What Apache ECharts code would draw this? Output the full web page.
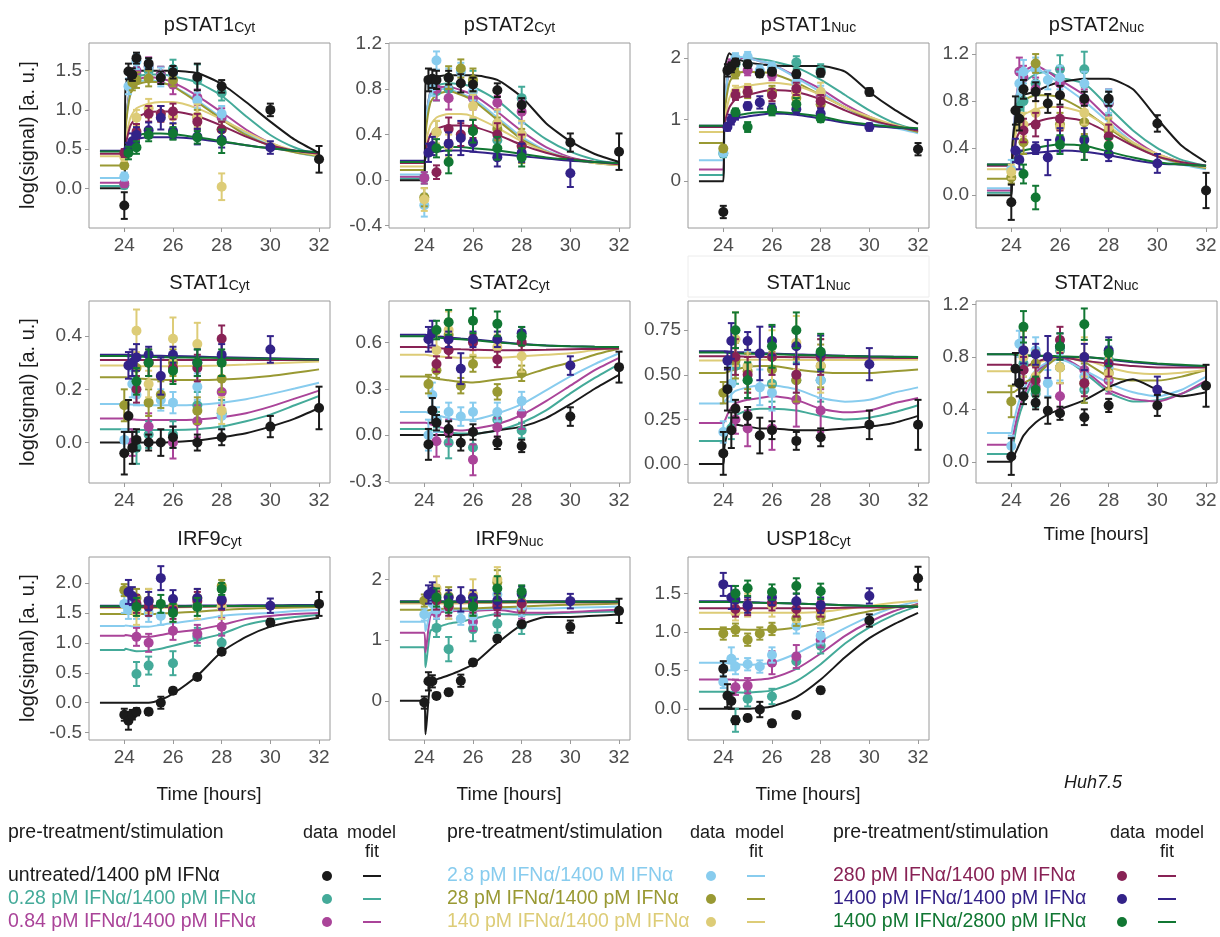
<!DOCTYPE html>
<html><head><meta charset="utf-8">
<script src="https://cdn.jsdelivr.net/npm/echarts@6/dist/echarts.min.js"></script>
<style>html,body{margin:0;padding:0;background:#fff}#c{width:1220px;height:937px}</style>
</head><body><div id="c"></div><script>
// ---------- shared ----------
const fitTimes = [23,24,24.05,24.25,24.5,25,25.5,26,27,28,29,30,31,32];
const xTickLabels = ['24','26','28','30','32'];
const conditions = ['untreated/1400 pM IFNα','0.28 pM IFNα/1400 pM IFNα','0.84 pM IFNα/1400 pM IFNα',
  '2.8 pM IFNα/1400 M IFNα','28 pM IFNα/1400 pM IFNα','140 pM IFNα/1400 pM IFNα',
  '280 pM IFNα/1400 pM IFNα','1400 pM IFNα/1400 pM IFNα','1400 pM IFNα/2800 pM IFNα'];
const conditionColors = ['#1a1a1a','#44AA99','#AA4499','#88CCEE','#999933','#DDCC77','#882255','#332288','#117733'];
const panelNames = ['pSTAT1','pSTAT2','pSTAT1','pSTAT2','STAT1','STAT2','STAT1','STAT2','IRF9','IRF9','USP18'];
const panelSubs  = ['Cyt','Cyt','Nuc','Nuc','Cyt','Cyt','Nuc','Nuc','Cyt','Nuc','Cyt'];
const yTickLabels = [
  ['0.0','0.5','1.0','1.5'], ['-0.4','0.0','0.4','0.8','1.2'], ['0','1','2'], ['0.0','0.4','0.8','1.2'],
  ['0.0','0.2','0.4'], ['-0.3','0.0','0.3','0.6'], ['0.00','0.25','0.50','0.75'], ['0.0','0.4','0.8','1.2'],
  ['-0.5','0.0','0.5','1.0','1.5','2.0'], ['0','1','2'], ['0.0','0.5','1.0','1.5']];
const yMins = [-0.506,-0.42,-0.76,-0.279,-0.152,-0.31,-0.106,-0.162,-0.622,-0.646,-0.407];
const yMaxs = [1.853,1.204,2.245,1.294,0.532,0.868,0.914,1.227,2.433,2.367,1.977];

// ---------- model fits (rows in condition order) ----------
const fit_pSTAT1Cyt = [
 [0,0,1.3,1.48,1.5,1.5,1.5,1.5,1.47,1.33,1.1,0.85,0.62,0.45],
 [0.03,0.03,0.8,1.3,1.42,1.45,1.45,1.43,1.35,1.18,0.92,0.68,0.52,0.42],
 [0.07,0.07,0.8,1.28,1.38,1.42,1.4,1.35,1.18,0.97,0.75,0.58,0.47,0.41],
 [0.13,0.13,0.8,1.25,1.35,1.38,1.35,1.3,1.12,0.9,0.7,0.55,0.46,0.4],
 [0.29,0.29,0.75,1.2,1.32,1.36,1.35,1.3,1.1,0.88,0.68,0.54,0.46,0.41],
 [0.41,0.41,0.6,0.9,1.02,1.08,1.1,1.1,1.02,0.88,0.72,0.58,0.48,0.42],
 [0.44,0.44,0.55,0.8,0.9,0.97,0.98,0.98,0.92,0.8,0.66,0.55,0.48,0.44],
 [0.48,0.48,0.52,0.6,0.63,0.65,0.65,0.65,0.63,0.59,0.55,0.51,0.48,0.46],
 [0.47,0.47,0.52,0.62,0.67,0.7,0.7,0.69,0.65,0.6,0.55,0.51,0.48,0.46]];
const fit_pSTAT2Cyt = [
 [0,0,0.85,0.9,0.91,0.92,0.92,0.92,0.88,0.73,0.5,0.34,0.23,0.16],
 [0.015,0.015,0.5,0.78,0.83,0.85,0.84,0.82,0.7,0.52,0.36,0.25,0.18,0.14],
 [0.03,0.03,0.5,0.77,0.81,0.82,0.79,0.75,0.6,0.43,0.29,0.2,0.16,0.14],
 [0.05,0.05,0.5,0.76,0.8,0.8,0.76,0.72,0.55,0.38,0.26,0.19,0.15,0.13],
 [0.09,0.09,0.4,0.68,0.75,0.78,0.75,0.7,0.53,0.36,0.25,0.18,0.15,0.13],
 [0.12,0.12,0.3,0.48,0.55,0.58,0.58,0.56,0.46,0.34,0.25,0.19,0.15,0.13],
 [0.15,0.15,0.25,0.4,0.45,0.48,0.48,0.47,0.4,0.31,0.24,0.19,0.16,0.14],
 [0.17,0.17,0.2,0.24,0.25,0.26,0.26,0.25,0.23,0.21,0.19,0.17,0.16,0.15],
 [0.16,0.16,0.2,0.26,0.28,0.29,0.29,0.28,0.26,0.23,0.2,0.18,0.16,0.15]];
const fit_pSTAT1Nuc = [
 [0,0,1.8,2.08,2.0,1.93,1.9,1.88,1.87,1.87,1.78,1.45,1.17,0.93],
 [0.1,0.1,1.2,1.85,1.98,2.0,1.98,1.95,1.85,1.65,1.4,1.15,0.95,0.82],
 [0.19,0.19,1.2,1.85,1.98,2.0,1.95,1.9,1.7,1.5,1.25,1.05,0.9,0.8],
 [0.34,0.34,1.2,1.88,2.02,2.0,1.95,1.9,1.68,1.45,1.2,1.0,0.87,0.78],
 [0.62,0.62,1.1,1.6,1.75,1.78,1.77,1.75,1.6,1.4,1.2,1.02,0.9,0.8],
 [0.8,0.8,1.0,1.35,1.5,1.55,1.58,1.6,1.55,1.4,1.2,1.05,0.92,0.82],
 [0.88,0.88,0.95,1.2,1.33,1.4,1.45,1.48,1.45,1.33,1.15,1.0,0.9,0.82],
 [0.9,0.9,0.9,0.97,1.02,1.05,1.08,1.1,1.08,1.02,0.95,0.9,0.87,0.85],
 [0.9,0.9,0.9,1.0,1.06,1.1,1.12,1.13,1.1,1.05,0.97,0.92,0.88,0.86]];
const fit_pSTAT2Nuc = [
 [0,0,0.45,0.75,0.85,0.88,0.93,0.96,0.99,0.99,0.9,0.65,0.42,0.28],
 [0.02,0.02,0.35,0.8,0.95,1.03,1.05,1.0,0.95,0.75,0.55,0.4,0.3,0.25],
 [0.04,0.04,0.4,0.9,1.05,1.1,1.05,0.98,0.85,0.65,0.48,0.35,0.28,0.23],
 [0.06,0.06,0.4,0.88,1.02,1.08,1.02,0.95,0.8,0.62,0.45,0.33,0.26,0.22],
 [0.14,0.14,0.35,0.68,0.8,0.85,0.85,0.83,0.72,0.57,0.43,0.33,0.27,0.23],
 [0.22,0.22,0.35,0.58,0.68,0.73,0.75,0.75,0.7,0.58,0.45,0.35,0.28,0.24],
 [0.25,0.25,0.32,0.5,0.58,0.62,0.65,0.66,0.63,0.53,0.42,0.33,0.28,0.25],
 [0.26,0.26,0.28,0.33,0.35,0.36,0.37,0.38,0.37,0.34,0.3,0.27,0.26,0.25],
 [0.26,0.26,0.28,0.35,0.38,0.4,0.42,0.43,0.42,0.37,0.32,0.28,0.26,0.25]];
const fit_STAT1Cyt = [
 [0,0,0,0,0,0,0,0.002,0.008,0.02,0.035,0.06,0.09,0.13],
 [0.05,0.05,0.05,0.05,0.048,0.047,0.047,0.047,0.05,0.06,0.08,0.105,0.14,0.175],
 [0.09,0.09,0.09,0.088,0.086,0.085,0.085,0.085,0.087,0.095,0.11,0.135,0.165,0.195],
 [0.145,0.145,0.145,0.143,0.141,0.14,0.14,0.14,0.142,0.15,0.163,0.182,0.203,0.225],
 [0.245,0.245,0.245,0.243,0.241,0.238,0.236,0.235,0.235,0.237,0.242,0.25,0.262,0.275],
 [0.29,0.29,0.29,0.289,0.288,0.287,0.287,0.287,0.288,0.29,0.293,0.297,0.301,0.305],
 [0.31,0.31,0.31,0.31,0.31,0.31,0.31,0.31,0.31,0.31,0.31,0.31,0.31,0.31],
 [0.33,0.33,0.33,0.329,0.328,0.327,0.326,0.325,0.323,0.321,0.319,0.317,0.315,0.313],
 [0.325,0.325,0.325,0.324,0.323,0.322,0.321,0.32,0.319,0.318,0.316,0.315,0.313,0.312]];
const fit_STAT2Cyt = [
 [0,0,0,0,0,0,0,0.005,0.03,0.055,0.11,0.2,0.3,0.39],
 [0.04,0.04,0.04,0.035,0.025,0.015,0.01,0.01,0.03,0.08,0.16,0.27,0.37,0.46],
 [0.08,0.08,0.08,0.07,0.055,0.04,0.03,0.04,0.07,0.13,0.22,0.32,0.42,0.5],
 [0.15,0.15,0.15,0.14,0.13,0.11,0.1,0.1,0.14,0.2,0.29,0.38,0.46,0.53],
 [0.38,0.38,0.38,0.375,0.365,0.355,0.345,0.34,0.36,0.38,0.43,0.47,0.52,0.56],
 [0.52,0.52,0.52,0.515,0.51,0.505,0.5,0.5,0.5,0.51,0.52,0.53,0.55,0.565],
 [0.57,0.57,0.57,0.567,0.563,0.558,0.555,0.553,0.55,0.55,0.552,0.555,0.558,0.56],
 [0.65,0.65,0.65,0.645,0.64,0.632,0.625,0.62,0.605,0.59,0.58,0.575,0.572,0.57],
 [0.64,0.64,0.64,0.636,0.632,0.625,0.62,0.615,0.6,0.588,0.58,0.575,0.572,0.57]];
const fit_STAT1Nuc = [
 [0,0,0.1,0.2,0.22,0.21,0.2,0.2,0.19,0.19,0.2,0.21,0.23,0.27],
 [0.13,0.13,0.15,0.22,0.27,0.3,0.31,0.31,0.3,0.27,0.25,0.26,0.29,0.33],
 [0.23,0.23,0.24,0.3,0.34,0.36,0.37,0.38,0.36,0.31,0.29,0.3,0.34,0.37],
 [0.34,0.34,0.35,0.38,0.41,0.43,0.44,0.44,0.42,0.37,0.35,0.36,0.4,0.43],
 [0.51,0.51,0.51,0.52,0.53,0.545,0.55,0.55,0.53,0.515,0.51,0.51,0.52,0.53],
 [0.58,0.58,0.58,0.582,0.584,0.585,0.585,0.585,0.584,0.583,0.583,0.584,0.585,0.585],
 [0.605,0.605,0.605,0.604,0.603,0.602,0.601,0.6,0.599,0.598,0.597,0.596,0.595,0.595],
 [0.633,0.633,0.633,0.63,0.628,0.625,0.622,0.62,0.615,0.611,0.607,0.604,0.602,0.6],
 [0.625,0.625,0.625,0.623,0.621,0.619,0.617,0.615,0.612,0.609,0.606,0.603,0.601,0.6]];
const fit_STAT2Nuc = [
 [0,0,0.02,0.1,0.2,0.3,0.36,0.4,0.47,0.57,0.63,0.55,0.5,0.53],
 [0.06,0.06,0.1,0.3,0.45,0.65,0.75,0.8,0.68,0.53,0.46,0.47,0.52,0.6],
 [0.13,0.13,0.18,0.35,0.5,0.68,0.76,0.8,0.7,0.55,0.48,0.46,0.52,0.62],
 [0.22,0.22,0.26,0.42,0.55,0.7,0.76,0.78,0.7,0.6,0.53,0.5,0.55,0.65],
 [0.53,0.53,0.53,0.55,0.6,0.65,0.74,0.8,0.76,0.65,0.62,0.62,0.65,0.7],
 [0.69,0.69,0.69,0.7,0.72,0.75,0.78,0.8,0.78,0.72,0.68,0.67,0.68,0.7],
 [0.74,0.74,0.73,0.71,0.72,0.76,0.79,0.8,0.77,0.75,0.73,0.72,0.72,0.72],
 [0.82,0.82,0.82,0.815,0.81,0.81,0.805,0.8,0.8,0.78,0.76,0.745,0.735,0.73],
 [0.82,0.82,0.82,0.815,0.812,0.81,0.808,0.805,0.8,0.785,0.765,0.75,0.74,0.73]];
const fit_IRF9Cyt = [
 [0,0,0,0,0,0,0.05,0.15,0.45,0.85,1.1,1.27,1.36,1.42],
 [0.88,0.88,0.9,0.88,0.86,0.87,0.9,0.95,1.05,1.15,1.3,1.38,1.43,1.47],
 [1.12,1.12,1.13,1.12,1.1,1.1,1.13,1.17,1.22,1.3,1.4,1.45,1.48,1.5],
 [1.28,1.28,1.29,1.28,1.27,1.27,1.3,1.33,1.38,1.45,1.48,1.5,1.53,1.55],
 [1.48,1.48,1.48,1.48,1.48,1.48,1.49,1.5,1.52,1.55,1.57,1.58,1.59,1.6],
 [1.58,1.58,1.58,1.58,1.58,1.58,1.585,1.59,1.6,1.605,1.61,1.615,1.618,1.62],
 [1.6,1.6,1.6,1.6,1.6,1.6,1.6,1.6,1.605,1.61,1.612,1.615,1.618,1.62],
 [1.62,1.62,1.62,1.62,1.62,1.62,1.62,1.62,1.622,1.624,1.626,1.628,1.63,1.63],
 [1.61,1.61,1.61,1.61,1.61,1.61,1.61,1.61,1.612,1.614,1.616,1.618,1.62,1.62]];
const fit_IRF9Nuc = [
 [0,0,-0.55,0.3,0.35,0.42,0.5,0.6,0.95,1.25,1.38,1.38,1.4,1.42],
 [0.88,0.88,0.55,1.15,1.2,1.27,1.3,1.35,1.43,1.42,1.43,1.45,1.46,1.47],
 [1.12,1.12,0.8,1.4,1.45,1.47,1.48,1.48,1.5,1.45,1.45,1.46,1.48,1.5],
 [1.3,1.3,1.15,1.45,1.48,1.5,1.5,1.5,1.52,1.52,1.52,1.53,1.54,1.55],
 [1.5,1.5,1.48,1.5,1.51,1.52,1.52,1.52,1.54,1.55,1.57,1.58,1.59,1.6],
 [1.6,1.6,1.6,1.6,1.6,1.6,1.6,1.61,1.61,1.615,1.62,1.62,1.62,1.62],
 [1.62,1.62,1.62,1.62,1.62,1.62,1.62,1.62,1.62,1.62,1.62,1.62,1.62,1.62],
 [1.64,1.64,1.64,1.64,1.64,1.64,1.64,1.64,1.64,1.64,1.64,1.64,1.64,1.64],
 [1.63,1.63,1.63,1.63,1.63,1.63,1.63,1.63,1.63,1.63,1.63,1.63,1.63,1.63]];
const fit_USP18Cyt = [
 [0,0,0,0,0,0,0.01,0.03,0.15,0.38,0.67,0.92,1.1,1.25],
 [0.22,0.22,0.22,0.22,0.215,0.21,0.22,0.24,0.36,0.58,0.85,1.06,1.22,1.34],
 [0.38,0.38,0.38,0.38,0.375,0.37,0.38,0.4,0.52,0.72,0.95,1.13,1.27,1.37],
 [0.6,0.6,0.6,0.59,0.58,0.57,0.58,0.6,0.72,0.88,1.05,1.2,1.32,1.4],
 [1.04,1.04,1.04,1.04,1.035,1.03,1.03,1.03,1.06,1.12,1.2,1.27,1.32,1.35],
 [1.25,1.25,1.25,1.25,1.25,1.25,1.25,1.25,1.25,1.26,1.3,1.34,1.38,1.41],
 [1.31,1.31,1.31,1.31,1.31,1.31,1.31,1.31,1.31,1.31,1.315,1.32,1.325,1.33],
 [1.4,1.4,1.4,1.4,1.395,1.39,1.385,1.38,1.37,1.36,1.35,1.34,1.335,1.33],
 [1.39,1.39,1.39,1.39,1.388,1.385,1.38,1.377,1.37,1.36,1.35,1.34,1.335,1.33]];

// ---------- measured data: [time, value, error] per condition ----------
const data_pSTAT1Cyt = [
 [[24,-0.22,0.17],[24.17,1.49,0.1],[24.33,1.45,0.08],[24.5,1.66,0.07],[25,1.59,0.07],[25.5,1.41,0.08],[26,1.48,0.08],[27,1.42,0.17],[28,1.3,0.08],[30,1.0,0.08],[32,0.37,0.17]],
 [[24,0.04,0.04],[24.33,1.38,0.1],[24.5,1.45,0.1],[25,1.5,0.08],[25.5,1.45,0.1],[26,1.52,0.12],[27,1.38,0.2],[28,1.22,0.1]],
 [[24,0.06,0.04],[24.33,1.4,0.1],[24.5,1.5,0.1],[25,1.55,0.12],[25.5,1.45,0.1],[26,1.32,0.12],[27,1.16,0.1],[28,0.9,0.12]],
 [[24,0.15,0.05],[24.17,1.3,0.1],[24.5,1.62,0.1],[25,1.55,0.1],[25.5,1.42,0.12],[26,1.45,0.1],[27,1.12,0.1],[28,0.95,0.1]],
 [[24,0.29,0.04],[24.33,1.35,0.1],[24.5,1.38,0.1],[25,1.4,0.1],[26,1.38,0.08],[27,0.9,0.1],[28,0.75,0.1]],
 [[24,0.4,0.05],[24.5,0.9,0.1],[25,1.02,0.12],[25.5,0.95,0.1],[26,0.92,0.1],[27,0.92,0.15],[28,0.02,0.17]],
 [[24,0.45,0.05],[24.5,0.72,0.1],[25,0.95,0.1],[25.5,0.95,0.1],[26,0.98,0.1],[27,0.85,0.1],[28,0.75,0.1]],
 [[24.17,0.5,0.08],[24.33,0.6,0.1],[24.5,0.68,0.1],[25,0.74,0.1],[25.5,0.9,0.15],[26,0.73,0.1],[27,0.66,0.1],[28,0.62,0.1],[30,0.52,0.08]],
 [[24.17,0.45,0.08],[24.5,0.52,0.08],[25,0.68,0.08],[26,0.7,0.08],[27,0.65,0.08],[28,0.6,0.15]]];
const data_pSTAT2Cyt = [
 [[24.17,0.88,0.1],[24.33,0.89,0.08],[24.5,0.88,0.08],[25,0.9,0.06],[25.5,0.85,0.08],[26,0.84,0.06],[27,0.79,0.06],[28,0.66,0.06],[30,0.33,0.08],[32,0.25,0.16]],
 [[24,0.02,0.05],[24.5,0.78,0.08],[25,0.8,0.1],[26,0.86,0.1],[27,0.35,0.1],[28,0.72,0.1]],
 [[24,0.02,0.05],[24.5,0.8,0.1],[25,0.72,0.1],[26,0.72,0.1],[27,0.68,0.06],[28,0.6,0.1]],
 [[24,-0.22,0.1],[24.33,0.82,0.08],[24.5,1.05,0.08],[25,0.9,0.08],[25.5,0.95,0.08],[26,0.78,0.08],[27,0.5,0.1],[28,0.4,0.1]],
 [[24,-0.15,0.08],[24.5,0.42,0.1],[25,0.9,0.1],[25.5,0.98,0.08],[26,0.88,0.1],[27,0.45,0.1],[28,0.3,0.15]],
 [[24,-0.17,0.1],[24.5,0.42,0.1],[25,0.3,0.1],[26,0.65,0.1],[27,0.5,0.12],[28,0.4,0.12]],
 [[24.5,0.07,0.06],[25,0.45,0.1],[25.5,0.4,0.1],[26,0.45,0.08],[27,0.4,0.1],[28,0.3,0.1]],
 [[24.17,0.24,0.08],[24.33,0.3,0.08],[25,0.32,0.1],[25.5,0.37,0.15],[26,0.33,0.08],[27,0.2,0.08],[28,0.24,0.08],[30,0.06,0.12]],
 [[24.5,0.28,0.08],[25,0.16,0.1],[26,0.43,0.1],[27,0.28,0.1],[28,0.2,0.08]]];
const data_pSTAT1Nuc = [
 [[24,-0.5,0.1],[24.17,1.8,0.1],[24.33,1.85,0.08],[24.5,1.93,0.06],[25,1.9,0.06],[25.5,1.75,0.06],[26,1.78,0.06],[27,1.74,0.06],[28,1.76,0.06],[30,1.45,0.06],[32,0.52,0.1]],
 [[24,0.45,0.06],[24.5,1.9,0.08],[25,1.9,0.08],[26,1.8,0.1],[27,1.93,0.1],[28,1.8,0.1]],
 [[24.33,1.9,0.08],[25,1.8,0.08],[26,1.72,0.08],[27,1.45,0.1],[28,1.4,0.1]],
 [[24,0.46,0.05],[24.5,2.0,0.08],[25,2.02,0.08],[25.5,1.8,0.08],[26,1.85,0.08],[27,1.6,0.1],[28,1.45,0.1]],
 [[24,0.53,0.05],[24.5,1.75,0.08],[25,1.45,0.1],[26,1.45,0.1],[27,1.35,0.15],[28,1.25,0.1]],
 [[24.5,1.45,0.1],[25,1.5,0.08],[26,1.4,0.1],[27,1.45,0.12],[28,1.45,0.15]],
 [[24.5,1.4,0.08],[25,1.45,0.08],[26,1.4,0.1],[27,1.5,0.1],[28,1.3,0.1]],
 [[24.17,0.88,0.06],[24.33,1.0,0.08],[24.5,1.08,0.08],[25,1.22,0.06],[25.5,1.28,0.1],[26,1.18,0.08],[27,1.17,0.08],[28,1.1,0.08],[30,0.88,0.06]],
 [[24.5,1.12,0.06],[25,0.88,0.08],[26,1.15,0.08],[27,1.25,0.1],[28,1.02,0.06]]];
const data_pSTAT2Nuc = [
 [[24,-0.06,0.15],[24.17,0.72,0.12],[24.33,0.65,0.1],[24.5,0.9,0.08],[25,0.88,0.08],[25.5,0.78,0.08],[26,0.85,0.08],[27,0.82,0.06],[28,0.82,0.06],[30,0.61,0.07],[32,0.04,0.15]],
 [[24.33,0.75,0.1],[24.5,0.8,0.1],[25,0.95,0.1],[26,1.07,0.12],[27,1.07,0.15],[28,0.78,0.1]],
 [[24.33,1.05,0.12],[24.5,1.0,0.1],[25,0.9,0.1],[26,0.95,0.12],[27,0.8,0.1],[28,0.78,0.12]],
 [[24,0.22,0.08],[24.33,0.95,0.1],[24.5,1.05,0.1],[25,1.07,0.1],[25.5,0.98,0.08],[26,1.0,0.1],[27,0.95,0.1],[28,0.8,0.1]],
 [[24,0.15,0.05],[24.5,0.45,0.1],[25,1.12,0.08],[26,0.6,0.1],[27,0.62,0.1],[28,0.55,0.1]],
 [[24,0.2,0.06],[24.5,0.6,0.1],[25,0.7,0.1],[26,0.58,0.08],[27,0.7,0.1],[28,0.58,0.08]],
 [[24.5,0.55,0.1],[25,0.6,0.1],[26,0.65,0.1],[27,0.4,0.1],[28,0.5,0.1]],
 [[24.17,0.38,0.1],[24.33,0.3,0.08],[25,0.4,0.05],[25.5,0.32,0.15],[26,0.47,0.1],[27,0.47,0.1],[28,0.35,0.06],[30,0.27,0.08]],
 [[24.5,0.18,0.08],[25,-0.02,0.1],[26,0.43,0.08],[27,0.4,0.1],[28,0.42,0.06]]];
const data_STAT1Cyt = [
 [[24,-0.04,0.08],[24.17,0.1,0.06],[24.33,-0.02,0.06],[24.5,0.01,0.04],[25,0.0,0.03],[25.5,0.0,0.05],[26,0.02,0.04],[27,0.0,0.03],[28,0.02,0.03],[30,0.06,0.04],[32,0.13,0.08]],
 [[24.5,-0.02,0.06],[25,0.03,0.05],[26,0.03,0.05],[27,0.14,0.05],[28,0.11,0.05]],
 [[24.33,0.0,0.05],[25,0.06,0.05],[26,0.0,0.06],[27,0.08,0.06],[28,0.19,0.05]],
 [[24,0.01,0.04],[24.33,0.22,0.05],[24.5,0.18,0.04],[25.5,0.16,0.04],[26,0.15,0.04],[27,0.21,0.05],[28,0.1,0.05]],
 [[24,0.14,0.06],[24.5,0.28,0.05],[25,0.15,0.05],[25.5,0.18,0.05],[26,0.3,0.05],[27,0.12,0.05],[28,0.24,0.05]],
 [[24.5,0.42,0.08],[25,0.22,0.05],[26,0.39,0.08],[27,0.37,0.08],[28,0.12,0.05]],
 [[24.5,0.2,0.05],[25,0.3,0.05],[26,0.28,0.05],[27,0.28,0.05],[28,0.39,0.05]],
 [[24.17,0.29,0.05],[24.33,0.3,0.05],[24.5,0.32,0.05],[25,0.33,0.03],[25.5,0.25,0.07],[26,0.33,0.03],[27,0.3,0.05],[28,0.33,0.04],[30,0.35,0.05]],
 [[24.5,0.23,0.05],[25,0.3,0.05],[26,0.27,0.05],[27,0.3,0.05],[28,0.3,0.05]]];
const data_STAT2Cyt = [
 [[24.17,-0.06,0.1],[24.33,0.16,0.08],[24.5,0.08,0.05],[25,0.04,0.05],[25.5,-0.05,0.05],[26,0.02,0.05],[27,-0.05,0.04],[28,-0.07,0.04],[30,0.12,0.06],[32,0.44,0.1]],
 [[24.5,0.1,0.05],[25,-0.05,0.1],[26,-0.08,0.08],[27,0.1,0.05],[28,0.03,0.05]],
 [[24.5,-0.04,0.1],[25,0.02,0.08],[26,-0.16,0.1],[27,0.05,0.06],[28,0.14,0.1]],
 [[24.17,0.0,0.1],[24.33,0.26,0.08],[24.5,0.1,0.08],[25,0.15,0.06],[25.5,0.12,0.06],[26,0.15,0.06],[27,0.15,0.06],[28,0.22,0.06]],
 [[24.17,0.33,0.06],[24.5,0.42,0.05],[25,0.65,0.1],[25.5,0.32,0.05],[26,0.46,0.05],[27,0.28,0.05],[28,0.4,0.05]],
 [[24.5,0.55,0.1],[25,0.68,0.12],[26,0.62,0.1],[27,0.57,0.08],[28,0.51,0.1]],
 [[24.5,0.46,0.05],[25,0.55,0.05],[26,0.6,0.05],[27,0.49,0.05],[28,0.6,0.05]],
 [[24.17,0.62,0.08],[24.33,0.66,0.08],[25,0.62,0.05],[25.5,0.43,0.1],[26,0.62,0.05],[27,0.62,0.05],[28,0.66,0.04],[30,0.45,0.06]],
 [[24.5,0.68,0.06],[25,0.73,0.08],[26,0.74,0.08],[27,0.72,0.08],[28,0.64,0.06]]];
const data_STAT1Nuc = [
 [[24,0.06,0.12],[24.17,0.42,0.12],[24.33,0.19,0.1],[24.5,0.31,0.05],[25,0.27,0.05],[25.5,0.16,0.1],[26,0.19,0.05],[27,0.13,0.05],[28,0.15,0.05],[30,0.22,0.08],[32,0.22,0.14]],
 [[24.33,0.2,0.06],[24.5,0.55,0.1],[25,0.47,0.1],[26,0.45,0.1],[27,0.47,0.1],[28,0.47,0.12]],
 [[24.5,0.25,0.08],[25,0.2,0.1],[26,0.2,0.12],[27,0.36,0.15],[28,0.3,0.12]],
 [[24,0.18,0.06],[24.33,0.45,0.1],[25,0.55,0.08],[25.5,0.43,0.1],[26,0.4,0.1],[27,0.5,0.1],[28,0.47,0.1]],
 [[24,0.4,0.06],[24.5,0.58,0.1],[25,0.52,0.1],[26,0.53,0.1],[27,0.47,0.12],[28,0.55,0.12]],
 [[24.5,0.7,0.15],[25,0.55,0.15],[26,0.6,0.15],[27,0.68,0.15],[28,0.55,0.15]],
 [[24.5,0.6,0.1],[25,0.5,0.1],[26,0.6,0.1],[27,0.5,0.1],[28,0.6,0.1]],
 [[24.17,0.58,0.05],[24.33,0.69,0.1],[25,0.69,0.05],[25.5,0.62,0.15],[26,0.69,0.08],[27,0.66,0.1],[28,0.62,0.1],[30,0.56,0.09]],
 [[24.5,0.75,0.1],[25,0.47,0.1],[26,0.66,0.12],[27,0.75,0.1],[28,0.63,0.1]]];
const data_STAT2Nuc = [
 [[24,0.04,0.14],[24.17,0.71,0.12],[24.33,0.6,0.1],[24.5,0.5,0.06],[25,0.45,0.05],[25.5,0.39,0.1],[26,0.37,0.05],[27,0.34,0.06],[28,0.43,0.05],[30,0.43,0.08],[32,0.58,0.16]],
 [[24.5,0.75,0.1],[25,0.52,0.1],[26,0.85,0.1],[27,0.55,0.1],[28,0.78,0.1]],
 [[24.5,0.7,0.1],[25,0.57,0.1],[26,0.5,0.1],[27,0.7,0.1],[28,0.62,0.1]],
 [[24,0.12,0.08],[24.33,0.9,0.1],[25,0.85,0.1],[25.5,0.6,0.1],[26,0.72,0.1],[27,0.65,0.1],[28,0.72,0.1]],
 [[24,0.46,0.12],[24.5,0.85,0.15],[25,0.75,0.1],[26,0.72,0.12],[27,0.6,0.15],[28,0.68,0.12]],
 [[24.5,0.8,0.15],[25,0.65,0.15],[26,0.72,0.12],[27,0.8,0.15],[28,0.67,0.12]],
 [[24.5,0.7,0.1],[25,0.62,0.1],[26,0.93,0.1],[27,0.6,0.1],[28,0.75,0.1]],
 [[24.33,0.6,0.1],[24.5,0.85,0.1],[25,0.82,0.08],[25.5,0.8,0.16],[26,0.88,0.1],[27,0.8,0.1],[28,0.85,0.1],[30,0.55,0.1]],
 [[24.5,1.03,0.12],[25,0.55,0.1],[26,0.88,0.1],[27,1.05,0.12],[28,0.83,0.1]]];
const data_IRF9Cyt = [
 [[24,-0.2,0.1],[24.17,-0.3,0.15],[24.33,-0.2,0.08],[24.5,-0.15,0.06],[25,-0.15,0.05],[25.5,0.0,0.1],[26,0.2,0.05],[27,0.43,0.05],[28,0.85,0.05],[30,1.34,0.06],[32,1.65,0.2]],
 [[24.5,0.48,0.2],[25,0.62,0.15],[26,0.66,0.2],[27,1.1,0.15],[28,1.0,0.15]],
 [[24.5,1.1,0.15],[25,1.0,0.15],[26,1.2,0.15],[27,1.15,0.15],[28,1.27,0.15]],
 [[24,1.65,0.15],[24.17,1.55,0.15],[24.5,1.55,0.15],[25,1.5,0.15],[25.5,1.45,0.15],[26,1.5,0.15],[27,1.6,0.15],[28,1.6,0.15]],
 [[24,1.88,0.1],[24.5,1.75,0.15],[25,1.7,0.2],[26,1.6,0.15],[27,1.75,0.15],[28,1.95,0.1]],
 [[24.5,1.5,0.2],[25,1.7,0.2],[26,1.55,0.2],[27,1.6,0.2],[28,1.6,0.2]],
 [[24.5,1.65,0.15],[25,1.6,0.15],[26,1.55,0.15],[27,1.7,0.15],[28,1.7,0.15]],
 [[24.17,1.85,0.2],[24.33,1.78,0.15],[25,1.7,0.15],[25.5,2.08,0.2],[26,1.73,0.15],[27,1.75,0.15],[28,1.72,0.15],[30,1.62,0.12]],
 [[24.5,1.6,0.15],[25.5,1.65,0.15],[26,1.5,0.15],[27,1.6,0.15],[28,1.9,0.1]]];
const data_IRF9Nuc = [
 [[24,-0.03,0.1],[24.17,0.32,0.15],[24.33,0.32,0.1],[24.5,0.08,0.05],[25,0.14,0.05],[25.5,0.33,0.1],[26,0.63,0.05],[27,1.02,0.05],[28,1.26,0.05],[30,1.22,0.1],[32,1.48,0.2]],
 [[24.5,1.2,0.15],[25,0.85,0.2],[26,1.18,0.2],[27,1.27,0.15],[28,1.25,0.15]],
 [[24.5,1.45,0.1],[25,1.5,0.15],[26,1.3,0.15],[27,1.6,0.15],[28,1.5,0.15]],
 [[24,1.42,0.1],[24.33,1.6,0.15],[24.5,1.5,0.15],[25,1.5,0.15],[25.5,1.35,0.1],[26,1.4,0.15],[27,1.75,0.15],[28,1.55,0.15]],
 [[24,1.65,0.1],[24.5,1.75,0.15],[25,1.72,0.15],[26,1.55,0.15],[27,1.95,0.2],[28,1.62,0.15]],
 [[24.5,1.85,0.2],[25,1.55,0.2],[26,1.75,0.25],[27,2.0,0.2],[28,1.6,0.15]],
 [[24.5,1.65,0.15],[25,1.55,0.15],[26,1.6,0.15],[27,1.55,0.15],[28,1.6,0.15]],
 [[24.17,1.75,0.15],[24.33,1.8,0.15],[25,1.7,0.12],[25.5,1.67,0.2],[26,1.7,0.12],[27,1.65,0.12],[28,1.76,0.12],[30,1.64,0.12]],
 [[24.5,1.7,0.15],[25,1.6,0.15],[26,1.55,0.15],[27,1.85,0.2],[28,1.8,0.1]]];
const data_USP18Cyt = [
 [[24,0.52,0.1],[24.17,0.17,0.15],[24.33,0.1,0.1],[24.5,-0.15,0.05],[25,-0.12,0.04],[25.5,-0.01,0.1],[26,-0.19,0.04],[27,-0.08,0.04],[28,0.24,0.04],[30,1.15,0.08],[32,1.7,0.15]],
 [[24.5,-0.15,0.15],[25,0.13,0.1],[26,0.16,0.1],[27,0.62,0.1],[28,0.82,0.1]],
 [[24.5,0.28,0.1],[25,0.3,0.1],[26,0.6,0.15],[27,0.68,0.15],[28,0.9,0.1]],
 [[24,0.35,0.08],[24.33,0.65,0.15],[24.5,0.55,0.1],[25,0.58,0.08],[25.5,0.55,0.08],[26,0.7,0.1],[27,1.08,0.1],[28,0.95,0.1]],
 [[24,0.98,0.08],[24.5,1.03,0.08],[25,0.9,0.08],[25.5,0.98,0.08],[26,1.04,0.08],[27,1.18,0.1],[28,1.2,0.1]],
 [[24.5,1.25,0.1],[25,1.35,0.15],[26,1.35,0.15],[27,1.28,0.15],[28,1.25,0.15]],
 [[24.5,1.3,0.1],[25,1.32,0.1],[26,1.38,0.1],[27,1.3,0.1],[28,1.3,0.1]],
 [[24,1.62,0.15],[24.33,1.45,0.15],[24.5,1.42,0.12],[25,1.35,0.1],[26,1.45,0.1],[27,1.4,0.1],[28,1.35,0.1],[30,1.47,0.1]],
 [[24.5,1.5,0.1],[25,1.57,0.1],[26,1.52,0.1],[27,1.6,0.1],[28,1.53,0.1]]];

const panelFits = [fit_pSTAT1Cyt,fit_pSTAT2Cyt,fit_pSTAT1Nuc,fit_pSTAT2Nuc,fit_STAT1Cyt,fit_STAT2Cyt,fit_STAT1Nuc,fit_STAT2Nuc,fit_IRF9Cyt,fit_IRF9Nuc,fit_USP18Cyt];
const panelData = [data_pSTAT1Cyt,data_pSTAT2Cyt,data_pSTAT1Nuc,data_pSTAT2Nuc,data_STAT1Cyt,data_STAT2Cyt,data_STAT1Nuc,data_STAT2Nuc,data_IRF9Cyt,data_IRF9Nuc,data_USP18Cyt];

// ---------- layout ----------
const FONT = '"Liberation Sans", Arial, Helvetica, sans-serif';
const colLeft = [89, 389, 688, 976];
const rowTop = [43, 301, 557];
const rowH = [185, 182, 183];
const PW = 241;
const BORDER = '#9a9a9a';
const TICKF = 19;
const xVals = xTickLabels.map(Number);

const grids = [], xAxes = [], yAxes = [], series = [], graphics = [];

function errRender(color){
  return function(params, api){
    const x = api.value(0), y = api.value(1), e = api.value(2);
    const p = api.coord([x, y]), hi = api.coord([x, y + e]), lo = api.coord([x, y - e]);
    const st = {stroke: color, lineWidth: 2};
    return {type:'group', children:[
      {type:'line', shape:{x1:p[0], y1:hi[1], x2:p[0], y2:lo[1]}, style:st},
      {type:'line', shape:{x1:p[0]-3.5, y1:hi[1], x2:p[0]+3.5, y2:hi[1]}, style:st},
      {type:'line', shape:{x1:p[0]-3.5, y1:lo[1], x2:p[0]+3.5, y2:lo[1]}, style:st},
      {type:'circle', shape:{cx:p[0], cy:p[1], r:5}, style:{fill:color}}
    ]};
  };
}

const drawOrder = [1,2,3,4,5,6,7,8,0];

panelNames.forEach((nm, i) => {
  const row = Math.floor(i / 4), col = i % 4;
  const left = colLeft[col], top = rowTop[row], h = rowH[row];
  grids.push({left, top, width: PW, height: h, show: true, borderColor: BORDER, borderWidth: 1, backgroundColor: '#fff'});
  xAxes.push({type:'value', gridIndex:i, min:22.55, max:32.45,
    axisLine:{show:false, onZero:false}, splitLine:{show:false},
    axisTick:{show:true, customValues:xVals, length:4, lineStyle:{color:BORDER}},
    axisLabel:{customValues:xVals, margin:8, color:'#4d4d4d', fontSize:TICKF, fontFamily:FONT,
      formatter: v => xTickLabels[xVals.indexOf(v)] ?? ''}});
  const labs = yTickLabels[i], vals = labs.map(Number);
  yAxes.push({type:'value', gridIndex:i, min:yMins[i], max:yMaxs[i],
    axisLine:{show:false, onZero:false}, splitLine:{show:false},
    axisTick:{show:true, customValues:vals, length:4, lineStyle:{color:BORDER}},
    axisLabel:{customValues:vals, margin:7, color:'#4d4d4d', fontSize:TICKF, fontFamily:FONT,
      formatter: v => { const k = vals.findIndex(q => Math.abs(q - v) < 1e-9); return k >= 0 ? labs[k] : ''; }}});
  // panel title with subscript
  graphics.push({type:'text', x: left + PW/2, y: top - 21, z: 10,
    style:{text:`{m|${nm}}{s|${panelSubs[i]}}`, align:'center', verticalAlign:'middle',
      rich:{m:{fontSize:20, fontFamily:FONT, fill:'#1a1a1a', lineHeight:27, verticalAlign:'bottom'},
            s:{fontSize:14, fontFamily:FONT, fill:'#1a1a1a', lineHeight:15, verticalAlign:'bottom'}}}});
  const fits = panelFits[i], dat = panelData[i];
  drawOrder.forEach(c => {
    series.push({type:'line', xAxisIndex:i, yAxisIndex:i, silent:true, animation:false,
      data: fitTimes.map((t, k) => [t, fits[c][k]]), showSymbol:false, symbol:'none',
      smooth:0.2, lineStyle:{color:conditionColors[c], width:2}, itemStyle:{color:conditionColors[c]}, z:2});
  });
  drawOrder.forEach(c => {
    series.push({type:'custom', xAxisIndex:i, yAxisIndex:i, silent:true, animation:false,
      renderItem: errRender(conditionColors[c]), data: dat[c], encode:{x:0, y:1}, z:3, clip:true});
  });
});

// faint strip box behind STAT1Nuc title
graphics.push({type:'rect', shape:{x:688, y:256, width:PW, height:41}, style:{fill:'none', stroke:'#ececec', lineWidth:1}, z:1});

// axis titles
[135, 392, 648].forEach(cy => graphics.push({type:'text', x:28, y:cy, rotation:Math.PI/2,
  style:{text:'log(signal) [a. u.]', align:'center', verticalAlign:'middle', fontSize:20, fontFamily:FONT, fill:'#1a1a1a'}}));
[[209,795],[509,795],[808,795],[1096,535]].forEach(([cx, cy]) => graphics.push({type:'text', x:cx, y:cy,
  style:{text:'Time [hours]', align:'center', verticalAlign:'middle', fontSize:19, fontFamily:FONT, fill:'#1a1a1a'}}));
graphics.push({type:'text', x:1093, y:783, style:{text:'Huh7.5', align:'center', verticalAlign:'middle', fontSize:18, fontStyle:'italic', fontFamily:FONT, fill:'#1a1a1a'}});

// legend (three columns)
const legCols = [{tx:8, dataX:303, modelX:347, dotX:327, dashX:372},
                 {tx:447, dataX:690, modelX:735, dotX:711, dashX:756},
                 {tx:833, dataX:1110, modelX:1155, dotX:1122, dashX:1167}];
const legRowsY = [876, 899, 922];
const LF = 19.5, HF = 18;
legCols.forEach((lc, ci) => {
  graphics.push({type:'text', x:lc.tx, y:833, style:{text:'pre-treatment/stimulation', align:'left', verticalAlign:'middle', fontSize:LF, fontFamily:FONT, fill:'#1a1a1a'}});
  graphics.push({type:'text', x:lc.dataX, y:833, style:{text:'data', align:'left', verticalAlign:'middle', fontSize:HF, fontFamily:FONT, fill:'#1a1a1a'}});
  graphics.push({type:'text', x:lc.modelX, y:833, style:{text:'model', align:'left', verticalAlign:'middle', fontSize:HF, fontFamily:FONT, fill:'#1a1a1a'}});
  graphics.push({type:'text', x:lc.dashX, y:852, style:{text:'fit', align:'center', verticalAlign:'middle', fontSize:HF, fontFamily:FONT, fill:'#1a1a1a'}});
  for (let r = 0; r < 3; r++) {
    const c = ci * 3 + r, y = legRowsY[r], col = conditionColors[c];
    graphics.push({type:'text', x:lc.tx, y, style:{text:conditions[c], align:'left', verticalAlign:'middle', fontSize:LF, fontFamily:FONT, fill:col}});
    graphics.push({type:'circle', shape:{cx:lc.dotX, cy:y, r:5}, style:{fill:col}});
    graphics.push({type:'line', shape:{x1:lc.dashX-9, y1:y, x2:lc.dashX+9, y2:y}, style:{stroke:col, lineWidth:2}});
  }
});

const chart = echarts.init(document.getElementById('c'), null, {renderer:'canvas'});
chart.setOption({animation:false, backgroundColor:'#fff', grid:grids, xAxis:xAxes, yAxis:yAxes, series, graphic:{elements:graphics}});
</script></body></html>
